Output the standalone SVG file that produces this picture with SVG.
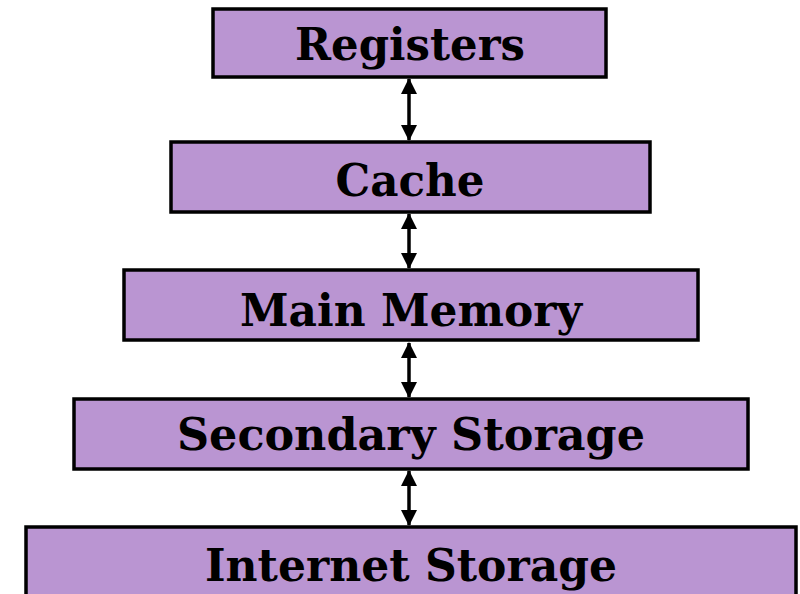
<svg xmlns="http://www.w3.org/2000/svg" width="800" height="594" viewBox="0 0 800 594">
  <defs>
    <marker id="head" viewBox="0 0 16 16" refX="15" refY="8" markerWidth="16" markerHeight="16" markerUnits="userSpaceOnUse" orient="auto-start-reverse">
      <path d="M0,0 L16,8 L0,16 Z" fill="#000"/>
    </marker>
    <style>
      .box { fill: #BA95D2; stroke: #000; stroke-width: 3.5; }
      .label { font-family: "DejaVu Serif", "Liberation Serif", serif; font-weight: bold; font-size: 44px; fill: #000; text-anchor: middle; }
      .link { stroke: #000; stroke-width: 3.5; fill: none; marker-start: url(#head); marker-end: url(#head); }
    </style>
  </defs>
  <rect width="800" height="594" fill="#fff"/>

  <g id="connectors">
    <line class="link" x1="409" y1="79" x2="409" y2="140"/>
    <line class="link" x1="409" y1="214" x2="409" y2="268"/>
    <line class="link" x1="409" y1="343" x2="409" y2="397"/>
    <line class="link" x1="409" y1="471" x2="409" y2="525"/>
  </g>

  <g id="registers">
    <rect class="box" x="213" y="9" width="393" height="68"/>
    <text class="label" x="410" y="60" font-size="40" textLength="230" lengthAdjust="spacingAndGlyphs">Registers</text>
  </g>
  <g id="cache">
    <rect class="box" x="171" y="142" width="479" height="70"/>
    <text class="label" x="410" y="196" textLength="149" lengthAdjust="spacingAndGlyphs">Cache</text>
  </g>
  <g id="main-memory">
    <rect class="box" x="124" y="270" width="574" height="70"/>
    <text class="label" x="411" y="326" textLength="342" lengthAdjust="spacingAndGlyphs">Main Memory</text>
  </g>
  <g id="secondary-storage">
    <rect class="box" x="74" y="399" width="674" height="70"/>
    <text class="label" x="411" y="450" textLength="468" lengthAdjust="spacingAndGlyphs">Secondary Storage</text>
  </g>
  <g id="internet-storage">
    <rect class="box" x="26" y="527" width="770" height="80"/>
    <text class="label" x="411" y="581" textLength="412" lengthAdjust="spacingAndGlyphs">Internet Storage</text>
  </g>
</svg>
